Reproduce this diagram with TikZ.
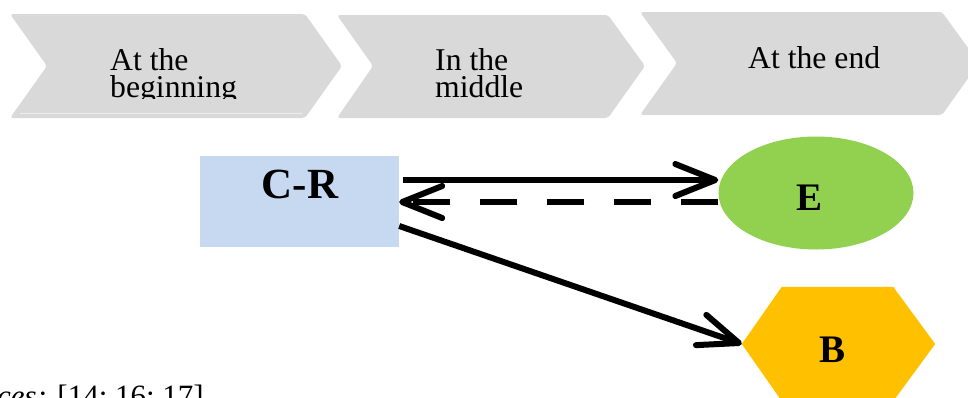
\documentclass[tikz,border=0pt]{standalone}
\usepackage{fontspec}
\setmainfont{Liberation Serif}
\usetikzlibrary{arrows.meta,shapes.geometric}
\definecolor{chev}{HTML}{D9D9D9}
\definecolor{chevline}{HTML}{EDEDED}
\definecolor{crblue}{HTML}{C6D9F1}
\definecolor{egreen}{HTML}{92D050}
\definecolor{borange}{HTML}{FFC000}
\begin{document}
\begin{tikzpicture}[x=1pt,y=-1pt,
  chevron/.style={fill=chev, rounded corners=3pt},
  steptext/.style={anchor=base west, align=left, font=\fontsize{31.7}{27}\selectfont, inner sep=0pt},
  bigbold/.style={font=\fontsize{43}{43}\selectfont\bfseries, inner sep=0pt},
  midbold/.style={font=\fontsize{39}{39}\selectfont\bfseries, inner sep=0pt},
  link/.style={line width=6pt, -{Straight Barb[length=40pt,width=32pt,round]}},
]
\useasboundingbox (0,0) rectangle (968,397);
\clip (0,0) rectangle (968,397);
% chevrons
\fill[chevron] (10,14) -- (305,14) -- (342,66) -- (305,118) -- (10,118) -- (47,66) -- cycle;
\draw[chevline, line width=1pt] (20,113) -- (302,113);
\fill[chevron] (337,15) -- (608,15) -- (645,66) -- (608,118) -- (337,118) -- (373,66) -- cycle;
\fill[chevron] (640,12) -- (942,12) -- (979,63) -- (942,115) -- (640,115) -- (677,63) -- cycle;
\begin{scope}
\clip (0,0) rectangle (968,98.5);
\node[steptext] (t1) at (110,97) {At the\\beginning};
\node[steptext] (t2) at (435,97) {In the\\middle};
\end{scope}
\node[steptext] (t3) at (748,68) {At the end};
% shapes
\node[fill=crblue, minimum width=199pt, minimum height=91pt, inner sep=0pt] (CR) at (299.5,201.5) {};
\node[bigbold] (CRt) at (300,184.5) {C-R};
\node[ellipse, fill=egreen, minimum width=195pt, minimum height=113pt, inner sep=0pt] (E) at (816,193) {};
\node[midbold] (Et) at (809,198) {E};
\node[minimum width=193pt, minimum height=114pt, inner sep=0pt] (B) at (838.5,344) {};
\fill[borange] (B.west) -- ([xshift=40pt]B.north west) -- ([xshift=-42pt]B.north east) -- (B.east)
  -- ([xshift=-42pt]B.south east) -- ([xshift=40pt]B.south west) -- cycle;
\node[midbold] (Bt) at (832,350) {B};
% connectors
\draw[link] ([xshift=4pt]CR.east |- 0,180) -- (E.west |- 0,180);
\draw[link, dash pattern=on 37pt off 30pt] (E.west |- 0,202) -- (CR.east |- 0,202);
\draw[link] (CR.east |- 0,226) -- (B.west);
% source line
\node[anchor=base west, inner sep=0pt, font=\fontsize{31}{31}\selectfont] (src) at (-3,406) {\textit{ces:} [14; 16; 17]};
\end{tikzpicture}
\end{document}
